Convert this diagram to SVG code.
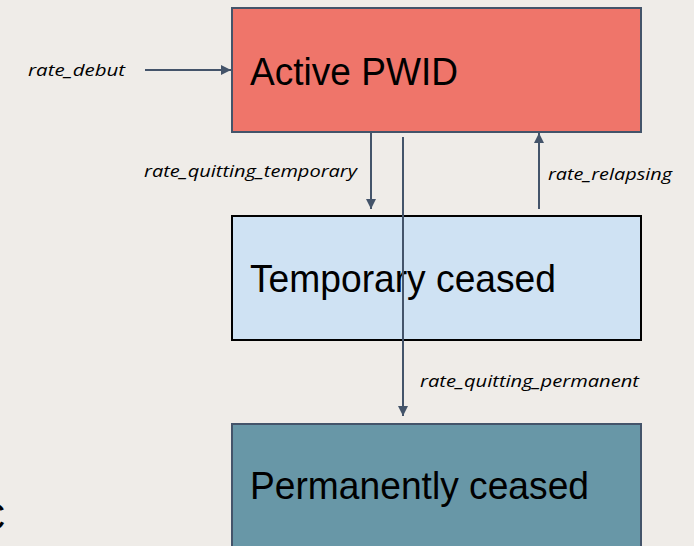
<svg xmlns="http://www.w3.org/2000/svg" width="694" height="546" viewBox="0 0 694 546">
<defs>
<style>
.box{stroke-width:2}
.lbl{font-family:"Liberation Sans",Arial,sans-serif;font-size:39px;fill:#000}
.rate{font-family:"Open Sans","DejaVu Sans",sans-serif;font-style:italic;font-size:17px;fill:#000}
.con{stroke:#44546a;stroke-width:2;fill:none}
</style>
<marker id="ah" viewBox="0 0 10 10" refX="10" refY="5" markerWidth="5" markerHeight="5" orient="auto" markerUnits="strokeWidth">
<path d="M0,0 L10,5 L0,10 z" fill="#44546a"/>
</marker>
</defs>
<rect width="694" height="546" fill="#efece8"/>
<g id="active">
<rect class="box" x="232" y="8" width="409" height="124" fill="#ef756a" stroke="#44546a"/>
<text class="lbl" x="250" y="85" textLength="208" lengthAdjust="spacingAndGlyphs">Active PWID</text>
</g>
<g id="temporary">
<rect class="box" x="232" y="216" width="409" height="124" fill="#cfe2f3" stroke="#000"/>
<text class="lbl" x="250" y="292" textLength="306" lengthAdjust="spacingAndGlyphs">Temporary ceased</text>
</g>
<g id="permanent">
<rect class="box" x="232" y="424" width="409" height="130" fill="#6897a7" stroke="#44546a"/>
<text class="lbl" x="250" y="499" textLength="339" lengthAdjust="spacingAndGlyphs">Permanently ceased</text>
</g>
<g id="connectors">
<line class="con" x1="145" y1="70" x2="231" y2="70" marker-end="url(#ah)"/>
<line class="con" x1="371" y1="133" x2="371" y2="209" marker-end="url(#ah)"/>
<line class="con" x1="403" y1="137" x2="403" y2="416" marker-end="url(#ah)"/>
<line class="con" x1="539" y1="209" x2="539" y2="133" marker-end="url(#ah)"/>
</g>
<g id="labels">
<text class="rate" x="28" y="76" textLength="97" lengthAdjust="spacingAndGlyphs">rate_debut</text>
<text class="rate" x="144" y="177" textLength="213" lengthAdjust="spacingAndGlyphs">rate_quitting_temporary</text>
<text class="rate" x="548" y="180" textLength="124" lengthAdjust="spacingAndGlyphs">rate_relapsing</text>
<text class="rate" x="420" y="387" textLength="219" lengthAdjust="spacingAndGlyphs">rate_quitting_permanent</text>
</g>
<text x="-22" y="530" font-family="Liberation Sans,Arial,sans-serif" font-size="38" fill="#000">C</text>
</svg>
